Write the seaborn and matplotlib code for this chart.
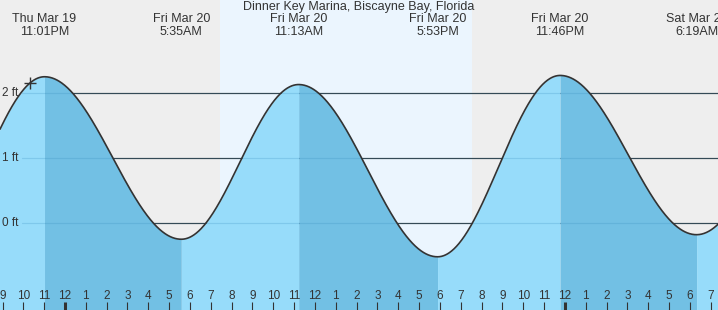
import numpy as np
import pandas as pd
import matplotlib
matplotlib.use("Agg")
import matplotlib.pyplot as plt
import seaborn as sns

# ---------------- data ----------------
title = "Dinner Key Marina, Biscayne Bay, Florida"
# tide extremes (hours from Fri Mar 20 00:00); first/last are just off-chart
extreme_hours = [-6.6, -0.983, 5.583, 11.217, 17.883, 23.767, 30.317, 36.4]
extreme_heights = [-0.30, 2.25, -0.25, 2.13, -0.52, 2.27, -0.18, 2.15]
label_days = ["Thu Mar 19", "Fri Mar 20", "Fri Mar 20", "Fri Mar 20", "Fri Mar 20", "Sat Mar 21"]
label_times = ["11:01PM", "5:35AM", "11:13AM", "5:53PM", "11:46PM", "6:19AM"]
sunrise_hour = 7.42
sunset_hour = 19.52
now_hour = -1.66
ft_ticks = [0, 1, 2]
ft_labels = ["0 ft", "1 ft", "2 ft"]
hour_ticks = list(range(-3, 32))
hour_labels = [str((h % 12) or 12) for h in hour_ticks]

# ---------------- style ----------------
sns.set_style("white")
plt.rcParams["font.family"] = ["Liberation Sans", "DejaVu Sans"]
TXT = "#333333"
BG = "#EEEEEE"
DAY = "#EBF5FE"
LIGHT = "#97DCFA"
DARK = "#72C0E4"

W, H = 718, 310
fig = plt.figure(figsize=(W / 100, H / 100), dpi=100)
ax = fig.add_axes([0, 0, 1, 1])
ax.set_facecolor(BG)

px_per_hour = 20.833
mid_px = 65.0
x0 = -mid_px / px_per_hour
x1 = (W - mid_px) / px_per_hour
zero_px, px_per_ft = 223.0, 65.0
y0 = -(H - zero_px) / px_per_ft
y1 = zero_px / px_per_ft
ax.set_xlim(x0, x1)
ax.set_ylim(y0, y1)


def tide(t):
    t = np.asarray(t, dtype=float)
    out = np.empty_like(t)
    for i in range(len(extreme_hours) - 1):
        a, b = extreme_hours[i], extreme_hours[i + 1]
        ha, hb = extreme_heights[i], extreme_heights[i + 1]
        m = (t >= a) & (t <= b)
        f = (1 - np.cos(np.pi * (t[m] - a) / (b - a))) / 2
        out[m] = ha + (hb - ha) * f
    return out


# daylight band
ax.axvspan(sunrise_hour, sunset_hour, color=DAY, zorder=0, lw=0)

# gridlines (dark, under water)
gx = 22 / W
for v in ft_ticks:
    ax.axhline(v, xmin=gx, xmax=1, color="#333333", lw=0.85, zorder=1)

# water fills per segment
for i in range(len(extreme_hours) - 1):
    a, b = extreme_hours[i], extreme_hours[i + 1]
    tt = np.linspace(a, b, 400)
    col = DARK if extreme_heights[i] > extreme_heights[i + 1] else LIGHT
    ax.fill_between(tt, y0 - 1, tide(tt), color=col, lw=0, zorder=2)

# faint gridlines over water
for v in ft_ticks:
    ax.axhline(v, xmin=gx, xmax=1, color="#3a8fc0", alpha=0.25, lw=0.85, zorder=3)

# tide curve
tt = np.linspace(x0, x1, 1500)
df = pd.DataFrame({"hour": tt, "height": tide(tt)})
sns.lineplot(data=df, x="hour", y="height", color="#333333", lw=1.2, ax=ax, zorder=4)

# current time marker
ax.plot([now_hour], tide([now_hour]), marker="+", color="#333333", ms=9, mew=1.0, zorder=5)

# ft labels
for v, lab in zip(ft_ticks, ft_labels):
    ax.text(2 / W, v, lab, transform=ax.get_yaxis_transform(), ha="left", va="center",
            fontsize=8.5, color=TXT, zorder=6)

# hour ticks and labels
xt = ax.get_xaxis_transform()
for h, lab in zip(hour_ticks, hour_labels):
    thick = (h % 24 == 0)
    ax.plot([h, h], [0, 8 / H], transform=xt, color="#333333",
            lw=2.2 if thick else 0.8, solid_capstyle="butt", zorder=6, clip_on=False)
    ax.text(h, 1 - 296 / H, lab, transform=xt, ha="center", va="center",
            fontsize=8.5, color=TXT, zorder=6)

# event labels
ev_hours = extreme_hours[1:-1]
for h, d, tm in zip(ev_hours, label_days, label_times):
    ax.text(h, 1 - 19 / H, d, transform=xt, ha="center", va="center", fontsize=9, color=TXT, zorder=6)
    ax.text(h, 1 - 32 / H, tm, transform=xt, ha="center", va="center", fontsize=9, color=TXT, zorder=6)

ax.text(0.5, 1 - 7 / H, title, transform=ax.transAxes, ha="center", va="center",
        fontsize=9, color=TXT, zorder=6)

ax.set_xlabel("")
ax.set_ylabel("")
ax.set_xticks([])
ax.set_yticks([])
for s in ax.spines.values():
    s.set_visible(False)

fig.savefig("out.png", dpi=100, facecolor=BG)
